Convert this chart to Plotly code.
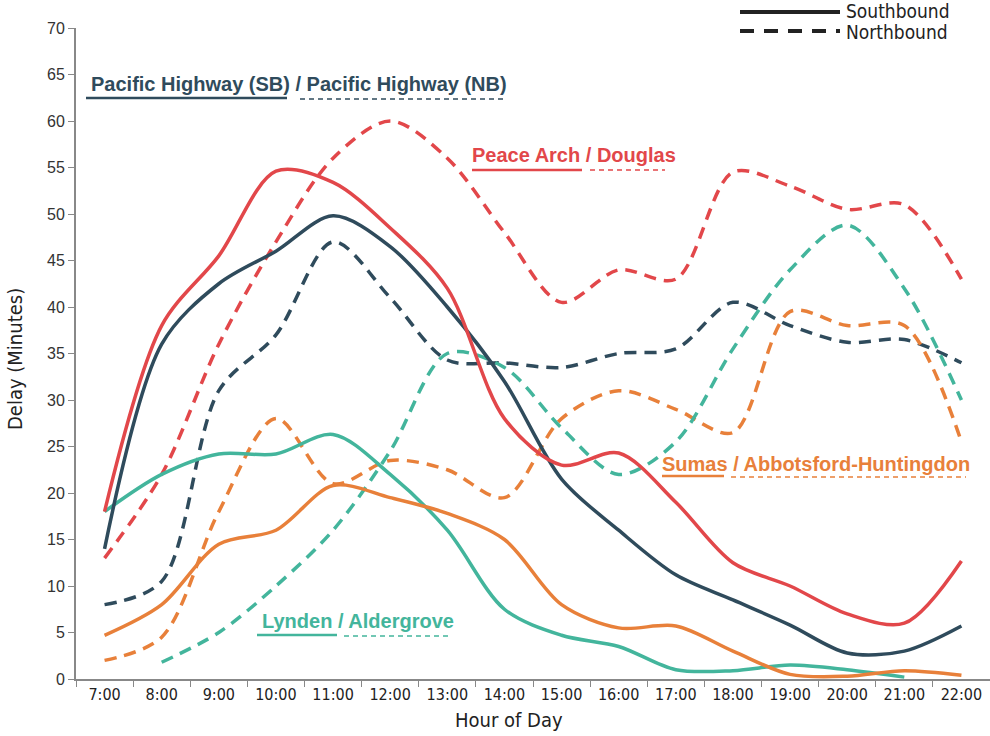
import plotly.graph_objects as go

hours = ["7:00", "8:00", "9:00", "10:00", "11:00", "12:00", "13:00", "14:00",
         "15:00", "16:00", "17:00", "18:00", "19:00", "20:00", "21:00", "22:00"]

pac_sb = [14, 36, 42.5, 46, 49.8, 46.5, 40, 32, 21.5, 16, 11.2, 8.5, 5.8, 2.8, 3.0, 5.7]
pac_nb = [8, 10.5, 31, 37, 47, 41, 34.3, 34, 33.5, 35, 35.5, 40.5, 38, 36.2, 36.5, 34]
pea_sb = [18, 38, 45.5, 54.6, 53.4, 48.5, 42, 28, 23, 24.3, 19, 12.5, 10, 7, 6, 12.7]
pea_nb = [13, 22, 36, 47, 56, 60, 56, 48, 40.5, 44, 43, 54.5, 53, 50.5, 51, 43]
sum_sb = [4.7, 8, 14.5, 16, 20.8, 19.5, 17.8, 15, 8, 5.5, 5.7, 3, 0.5, 0.3, 0.9, 0.4]
sum_nb = [2, 4.5, 18, 28, 21, 23.5, 22.5, 19.5, 28, 31, 29, 26.5, 39.5, 38, 38, 25.5]
lyn_sb = [18, 22, 24.2, 24.2, 26.3, 22, 16, 7.5, 4.7, 3.5, 1, 0.9, 1.5, 1, 0.2, None]
lyn_nb = [None, 1.8, 5, 10, 16, 24.5, 35, 33.5, 27, 22, 25.5, 35.5, 44, 48.8, 42, 30]

NAVY = "#2F4B5C"
RED = "#E2474A"
ORANGE = "#E8803A"
TEAL = "#43B59C"
DASH = "12px,8px"

ARIAL = "Arial, Liberation Sans, sans-serif"
NARROW = "Liberation Sans Narrow, Arial Narrow, DejaVu Sans Condensed, sans-serif"

series = [
    (pac_nb, NAVY, DASH), (sum_nb, ORANGE, DASH), (lyn_nb, TEAL, DASH), (pea_nb, RED, DASH),
    (lyn_sb, TEAL, "solid"), (sum_sb, ORANGE, "solid"), (pac_sb, NAVY, "solid"), (pea_sb, RED, "solid"),
]

fig = go.Figure()
for vals, col, dash in series:
    fig.add_trace(go.Scatter(
        x=hours, y=vals, mode="lines",
        line=dict(color=col, width=3.5, dash=dash, shape="spline", smoothing=0.9),
        connectgaps=False, showlegend=False, hoverinfo="skip"))

W, H = 990, 736
L, R, T, B = 76, 990, 28, 679

def px(x):
    return (x - L) / (R - L)
def py(y):
    return (B - y) / (B - T)

shapes = []
annots = []

def hline(x0, x1, y, color, width, dash="solid"):
    shapes.append(dict(type="line", xref="paper", yref="paper",
                       x0=px(x0), x1=px(x1), y0=py(y), y1=py(y),
                       line=dict(color=color, width=width, dash=dash)))

def text(t, x, y, color, size, family, xanchor="left", angle=0):
    annots.append(dict(text=t, xref="paper", yref="paper",
                       x=px(x), y=py(y), xanchor=xanchor, yanchor="middle",
                       showarrow=False, textangle=angle,
                       font=dict(family=family, size=size, color=color)))

# series labels
text("<b>Pacific Highway (SB) / Pacific Highway (NB)</b>", 89, 84, NAVY, 20, ARIAL)
hline(86, 287, 98, NAVY, 2.5)
hline(300, 505, 99, NAVY, 1.5, "5px,4px")

text("<b>Peace Arch / Douglas</b>", 470, 155, RED, 20, ARIAL)
hline(472, 582, 170, RED, 2.5)
hline(590, 665, 170, RED, 1.5, "5px,4px")

text("<b>Sumas / Abbotsford-Huntingdon</b>", 660, 464, ORANGE, 20, ARIAL)
hline(662, 724, 476, ORANGE, 2.5)
hline(731, 966, 477, ORANGE, 1.5, "5px,4px")

text("<b>Lynden / Aldergrove</b>", 260, 621, TEAL, 20, ARIAL)
hline(257, 337, 635, TEAL, 2.5)
hline(344, 450, 636, TEAL, 1.5, "5px,4px")

# direction key
hline(740, 840, 12, "#222222", 4)
hline(740, 840, 31, "#222222", 4, "14px,10px")
text("Southbound", 844, 10.5, "#222222", 19, NARROW)
text("Northbound", 844, 32, "#222222", 19, NARROW)

# axis titles
text("Hour of Day", 509, 720, "#222222", 20, NARROW, xanchor="center")
text("Delay (Minutes)", 15, 359, "#222222", 20, NARROW, xanchor="center", angle=-90)

fig.update_layout(
    width=W, height=H,
    margin=dict(l=L, r=W - R, t=T, b=H - B),
    paper_bgcolor="white", plot_bgcolor="white",
    shapes=shapes, annotations=annots,
    font=dict(family=ARIAL, color="#333333"),
)
fig.update_xaxes(
    type="category", range=[-0.5, 15.5], tickson="boundaries",
    ticks="outside", ticklen=6, tickcolor="#888888", tickwidth=1,
    showline=True, linecolor="#888888", linewidth=2, showgrid=False, zeroline=False,
    tickfont=dict(family=NARROW, size=16, color="#222222"),
)
fig.update_yaxes(
    range=[0, 70], dtick=5, tick0=0,
    ticks="outside", ticklen=6, tickcolor="#888888", tickwidth=1,
    showline=True, linecolor="#888888", linewidth=2, showgrid=False, zeroline=False,
    tickfont=dict(family=ARIAL, size=16, color="#333333"),
)

fig.write_html("out.html", config={"displayModeBar": False},
               post_script="document.body.style.margin='0px';")
